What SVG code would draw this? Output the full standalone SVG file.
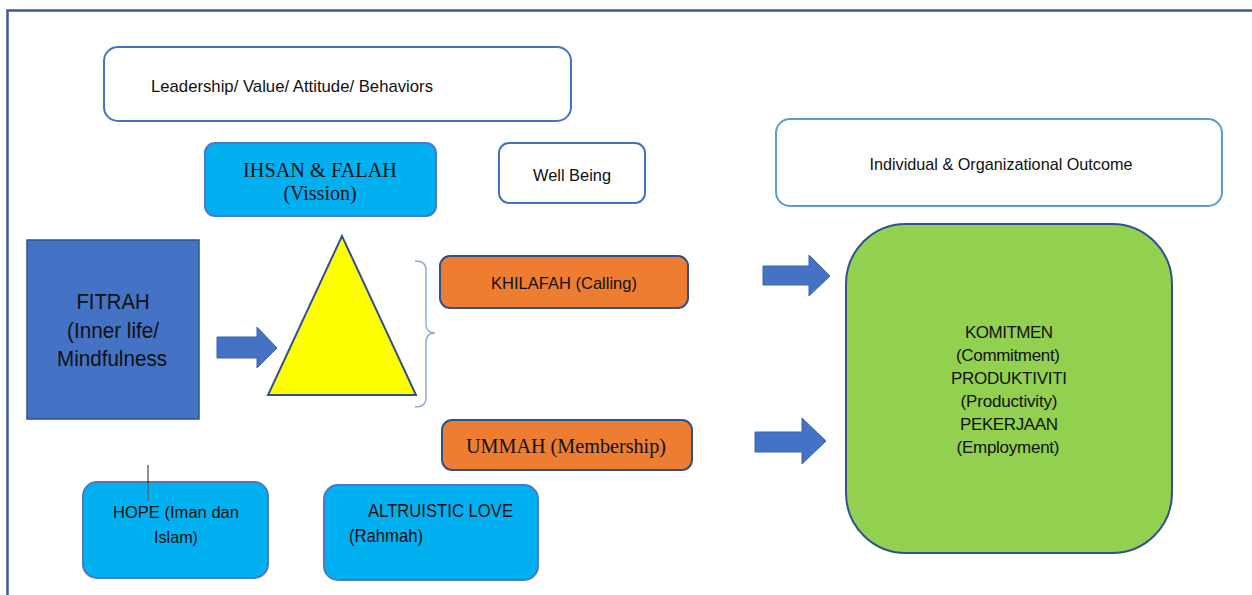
<svg xmlns="http://www.w3.org/2000/svg" width="1252" height="595" viewBox="0 0 1252 595">
<style>
.sans{font-family:"Liberation Sans",Arial,sans-serif;fill:#111;}
.serif{font-family:"Liberation Serif","Times New Roman",serif;fill:#111;}
.wbox{fill:#fff;stroke:#4472C4;stroke-width:2;}
.cbox{fill:#00B0F0;stroke:#4A79C6;stroke-width:2;}
.obox{fill:#ED7D31;stroke:#2F528F;stroke-width:2;}
.arrow{fill:#4472C4;stroke:#3A62AD;stroke-width:1;}
</style>
<rect x="0" y="0" width="1252" height="595" fill="#fff"/>
<path d="M7.5 595 V10.5 H1252" fill="none" stroke="#3C5A98" stroke-width="2.5"/>

<g id="leadership">
<rect class="wbox" x="104" y="47" width="467" height="74" rx="14"/>
<text class="sans" x="151" y="92" font-size="17" textLength="282" lengthAdjust="spacingAndGlyphs">Leadership/ Value/ Attitude/ Behaviors</text>
</g>
<g id="ihsan">
<rect class="cbox" x="205" y="143" width="231" height="73" rx="10"/>
<text class="serif" x="320" y="177" font-size="20" text-anchor="middle" textLength="154" lengthAdjust="spacingAndGlyphs">IHSAN &amp; FALAH</text>
<text class="serif" x="320" y="200" font-size="20" text-anchor="middle">(Vission)</text>
</g>
<g id="wellbeing">
<rect class="wbox" x="499" y="143" width="146" height="60" rx="10"/>
<text class="sans" x="572" y="181" font-size="17" text-anchor="middle" textLength="78" lengthAdjust="spacingAndGlyphs">Well Being</text>
</g>
<g id="outcome">
<rect x="776" y="119" width="446" height="87" rx="14" fill="#fff" stroke="#5B9BD5" stroke-width="2"/>
<text class="sans" x="1001" y="170" font-size="17" text-anchor="middle" textLength="263" lengthAdjust="spacingAndGlyphs">Individual &amp; Organizational Outcome</text>
</g>
<g id="fitrah">
<rect x="27" y="240" width="172" height="179" fill="#4472C4" stroke="#2F528F" stroke-width="1.5"/>
<text class="sans" x="113" y="309" font-size="22.5" text-anchor="middle" textLength="73" lengthAdjust="spacingAndGlyphs">FITRAH</text>
<text class="sans" x="113" y="338" font-size="22.5" text-anchor="middle" textLength="92" lengthAdjust="spacingAndGlyphs">(Inner life/</text>
<text class="sans" x="112" y="366" font-size="22.5" text-anchor="middle" textLength="110" lengthAdjust="spacingAndGlyphs">Mindfulness</text>
</g>
<g id="triangle">
<polygon points="342,236 268,395 416,395" fill="#FFFF00" stroke="#2F528F" stroke-width="2"/>
</g>
<g id="brace">
<path d="M415 261 Q426 261 426 270 V324 Q426 333 435 333 Q426 333 426 342 V398 Q426 407 415 407" fill="none" stroke="#8FAADC" stroke-width="1.5"/>
</g>
<g id="khilafah">
<rect class="obox" x="440" y="256" width="248" height="52" rx="10"/>
<text class="sans" x="564" y="289" font-size="17" text-anchor="middle" textLength="146" lengthAdjust="spacingAndGlyphs">KHILAFAH (Calling)</text>
</g>
<g id="ummah">
<rect class="obox" x="442" y="420" width="250" height="50" rx="10"/>
<text class="serif" x="566" y="453" font-size="20" text-anchor="middle" textLength="200" lengthAdjust="spacingAndGlyphs">UMMAH (Membership)</text>
</g>
<g id="outcomes">
<rect x="846" y="224" width="326" height="329" rx="60" fill="#92D050" stroke="#2F528F" stroke-width="2"/>
<g class="sans" font-size="17" text-anchor="middle" lengthAdjust="spacingAndGlyphs">
<text x="1009" y="338" textLength="88">KOMITMEN</text>
<text x="1008" y="361" textLength="104">(Commitment)</text>
<text x="1009" y="384" textLength="116">PRODUKTIVITI</text>
<text x="1009" y="407" textLength="97">(Productivity)</text>
<text x="1009" y="430" textLength="98">PEKERJAAN</text>
<text x="1008" y="453" textLength="103">(Employment)</text>
</g>
</g>
<g id="hope">
<rect class="cbox" x="83" y="482" width="185" height="96" rx="14"/>
<text class="sans" x="176" y="518" font-size="16.5" text-anchor="middle" textLength="126" lengthAdjust="spacingAndGlyphs">HOPE (Iman dan</text>
<text class="sans" x="176" y="543" font-size="16.5" text-anchor="middle" textLength="44" lengthAdjust="spacingAndGlyphs">Islam)</text>
</g>
<g id="altruistic">
<rect class="cbox" x="324" y="485" width="214" height="95" rx="14"/>
<text class="sans" x="368" y="517" font-size="18" textLength="145" lengthAdjust="spacingAndGlyphs">ALTRUISTIC LOVE</text>
<text class="sans" x="349" y="542" font-size="18" textLength="74" lengthAdjust="spacingAndGlyphs">(Rahmah)</text>
</g>

<g id="connectors">
<path class="arrow" d="M217 337 H257 V327 L277 348 L257 368 V358 H217 Z"/>
<path class="arrow" d="M763 266 H809 V255 L830 276 L809 296 V285 H763 Z"/>
<path class="arrow" d="M755 432 H802 V418 L826 441 L802 464 V452 H755 Z"/>
<line x1="148" y1="465" x2="148" y2="483" stroke="#222" stroke-width="1"/>
<line x1="148" y1="483" x2="148" y2="501" stroke="#8B3A2A" stroke-width="1"/>
</g>
</svg>
